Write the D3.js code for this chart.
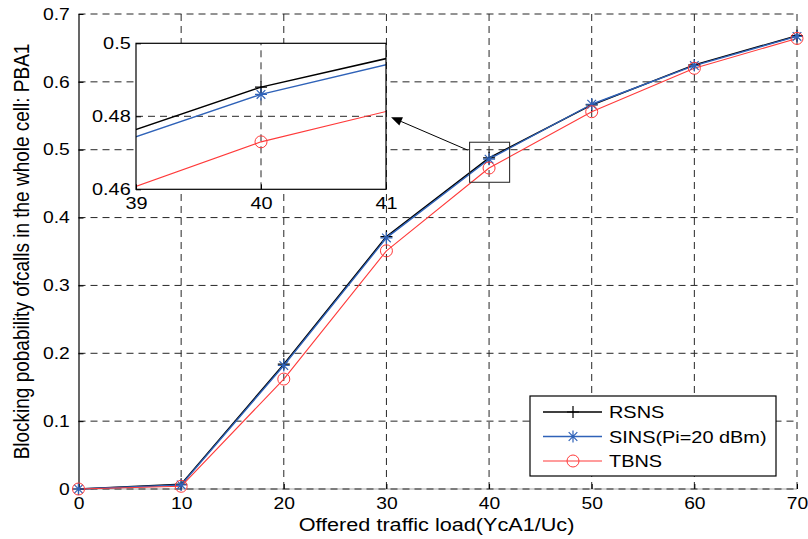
<!DOCTYPE html>
<html>
<head>
<meta charset="utf-8">
<script src="https://cdn.jsdelivr.net/npm/d3@7"></script>
<style>
  html, body { margin: 0; padding: 0; background: #fff; }
  svg { display: block; font-family: Arial, "Liberation Sans", sans-serif; }
</style>
</head>
<body>
<svg id="chart" width="808" height="539"></svg>
<script>
// ---------------- data ----------------
const load = [0, 10, 20, 30, 40, 50, 60, 70];
const rsns = [0, 0.007, 0.184, 0.372, 0.488, 0.566, 0.625, 0.668];
const sins = [0, 0.006, 0.182, 0.370, 0.486, 0.567, 0.624, 0.667];
const tbns = [0, 0.004, 0.162, 0.351, 0.473, 0.556, 0.620, 0.664];
const seriesNames = ["RSNS", "SINS(Pi=20 dBm)", "TBNS"];
const xTicks = [0, 10, 20, 30, 40, 50, 60, 70];
const yTicks = [0, 0.1, 0.2, 0.3, 0.4, 0.5, 0.6, 0.7];
const yTickLabels = ["0", "0.1", "0.2", "0.3", "0.4", "0.5", "0.6", "0.7"];
const insetXDomain = [39, 41];
const insetYDomain = [0.46, 0.5];
const insetXTicks = [39, 40, 41];
const insetYTicks = [0.46, 0.48, 0.5];
const insetYTickLabels = ["0.46", "0.48", "0.5"];
const zoomBoxX = [38.1, 42.0];
const zoomBoxY = [0.452, 0.511];
const arrowFrom = [37.9, 0.4995];
const arrowTo = [30.45, 0.548];
const xLabel = "Offered traffic load(YcA1/Uc)";
const yLabel = "Blocking pobability ofcalls in the whole cell: PBA1";

// ---------------- layout / style ----------------
const SX = 1.17; // horizontal text stretch of the original picture
const colors = ["#000000", "#2f62b8", "#ff3a3a"];
const widths = [1.5, 1.4, 1.1];
const markers = ["plus", "star", "circle"];
const series = [rsns, sins, tbns];
const gridColor = "#262626";
const dash = "7,5";

const svg = d3.select("#chart");
svg.append("rect").attr("width", 808).attr("height", 539).attr("fill", "#fff");

const x = d3.scaleLinear().domain([0, 70]).range([78.5, 797]);
const y = d3.scaleLinear().domain([0, 0.7]).range([489, 14]);

function drawMarker(g, type, cx, cy, color, s) {
  if (type === "circle") {
    g.append("circle").attr("cx", cx).attr("cy", cy).attr("r", s)
      .attr("fill", "none").attr("stroke", color).attr("stroke-width", 1);
  } else {
    let d = `M${cx - s},${cy}H${cx + s}M${cx},${cy - s}V${cy + s}`;
    if (type === "star") {
      const t = s * 0.72;
      d += `M${cx - t},${cy - t}L${cx + t},${cy + t}M${cx - t},${cy + t}L${cx + t},${cy - t}`;
    }
    g.append("path").attr("d", d).attr("fill", "none").attr("stroke", color).attr("stroke-width", 1.2);
  }
}

// ---------------- main grid ----------------
const grid = svg.append("g");
grid.append("line").attr("x1", x(0)).attr("x2", x(70)).attr("y1", y(0)).attr("y2", y(0))
  .attr("stroke", "#a8a8a8").attr("stroke-width", 1.2);
xTicks.forEach(t => {
  if (t === 0) return;
  grid.append("line").attr("x1", x(t)).attr("x2", x(t)).attr("y1", y(0)).attr("y2", y(0.7))
    .attr("stroke", gridColor).attr("stroke-dasharray", dash).attr("stroke-width", 1);
});
yTicks.forEach(t => {
  grid.append("line").attr("x1", x(0)).attr("x2", x(70)).attr("y1", y(t)).attr("y2", y(t))
    .attr("stroke", gridColor).attr("stroke-dasharray", dash).attr("stroke-width", 1);
});

// ---------------- axes ----------------
const yAxis = svg.append("g").attr("transform", `translate(${x(0)},0)`)
  .call(d3.axisLeft(y).tickValues(yTicks).tickFormat((d, i) => yTickLabels[i])
    .tickSizeInner(-5).tickSizeOuter(0).tickPadding(7.5));
yAxis.select(".domain").attr("stroke", "#000").attr("stroke-width", 1.2);
yAxis.selectAll(".tick line").attr("stroke", "#000");
yAxis.selectAll("text").attr("font-size", 16.5).attr("fill", "#000")
  .attr("font-family", "Arial, 'Liberation Sans', sans-serif")
  .attr("transform", `scale(${SX},1)`);

const xAxis = svg.append("g").attr("transform", `translate(0,${y(0)})`)
  .call(d3.axisBottom(x).tickValues(xTicks).tickFormat(d3.format("d"))
    .tickSizeInner(-5).tickSizeOuter(0).tickPadding(8));
xAxis.select(".domain").remove();
xAxis.selectAll(".tick line").attr("stroke", "#000");
xAxis.selectAll("text").attr("font-size", 16.5).attr("fill", "#000")
  .attr("font-family", "Arial, 'Liberation Sans', sans-serif")
  .attr("transform", `scale(${SX},1)`);

// axis titles
svg.append("text").text(xLabel)
  .attr("transform", `translate(436.5,531) scale(${SX},1)`)
  .attr("text-anchor", "middle").attr("font-size", 18.5).attr("fill", "#000");
svg.append("text").text(yLabel)
  .attr("transform", `translate(29,251.5) scale(${SX},1) rotate(-90)`)
  .attr("text-anchor", "middle").attr("font-size", 19).attr("fill", "#000");

// ---------------- main series ----------------
const line = d3.line().x((d, i) => x(load[i])).y(d => y(d));
const plot = svg.append("g");
series.forEach((s, k) => {
  plot.append("path").datum(s).attr("d", line).attr("fill", "none")
    .attr("stroke", colors[k]).attr("stroke-width", widths[k]).attr("stroke-linejoin", "round");
});
series.forEach((s, k) => {
  s.forEach((v, i) => drawMarker(plot, markers[k], x(load[i]), y(v), colors[k], 6));
});

// zoom box
svg.append("rect")
  .attr("x", x(zoomBoxX[0])).attr("y", y(zoomBoxY[1]))
  .attr("width", x(zoomBoxX[1]) - x(zoomBoxX[0]))
  .attr("height", y(zoomBoxY[0]) - y(zoomBoxY[1]))
  .attr("fill", "none").attr("stroke", "#333").attr("stroke-width", 1.1);

// arrow
(function () {
  const x1 = x(arrowFrom[0]), y1 = y(arrowFrom[1]);
  const x2 = x(arrowTo[0]), y2 = y(arrowTo[1]);
  const ang = Math.atan2(y2 - y1, x2 - x1);
  const L = 11, W = 4.5;
  const bx = x2 - L * Math.cos(ang), by = y2 - L * Math.sin(ang);
  svg.append("line").attr("x1", x1).attr("y1", y1).attr("x2", bx).attr("y2", by)
    .attr("stroke", "#000").attr("stroke-width", 1);
  const px = -Math.sin(ang) * W, py = Math.cos(ang) * W;
  svg.append("path")
    .attr("d", `M${x2},${y2}L${bx + px},${by + py}L${bx - px},${by - py}Z`)
    .attr("fill", "#000");
})();

// ---------------- inset ----------------
const xi = d3.scaleLinear().domain(insetXDomain).range([136, 386]);
const yi = d3.scaleLinear().domain(insetYDomain).range([189.3, 43.3]);
const inset = svg.append("g");
inset.append("rect").attr("x", 136).attr("y", 43.3).attr("width", 250).attr("height", 146)
  .attr("fill", "#fff");
inset.append("line").attr("x1", xi(40)).attr("x2", xi(40)).attr("y1", yi(0.46)).attr("y2", yi(0.5))
  .attr("stroke", gridColor).attr("stroke-dasharray", dash);
inset.append("line").attr("x1", xi(39)).attr("x2", xi(41)).attr("y1", yi(0.48)).attr("y2", yi(0.48))
  .attr("stroke", gridColor).attr("stroke-dasharray", dash);

svg.append("clipPath").attr("id", "insetClip").append("rect")
  .attr("x", 136).attr("y", 43.3).attr("width", 250).attr("height", 146);
const lineI = d3.line().x((d, i) => xi(load[i])).y(d => yi(d));
const insetPlot = inset.append("g").attr("clip-path", "url(#insetClip)");
series.forEach((s, k) => {
  insetPlot.append("path").datum(s).attr("d", lineI).attr("fill", "none")
    .attr("stroke", colors[k]).attr("stroke-width", widths[k]);
});
series.forEach((s, k) => {
  s.forEach((v, i) => {
    if (load[i] >= insetXDomain[0] && load[i] <= insetXDomain[1])
      drawMarker(insetPlot, markers[k], xi(load[i]), yi(v), colors[k], 6);
  });
});

const yiAxis = inset.append("g").attr("transform", `translate(136,0)`)
  .call(d3.axisLeft(yi).tickValues(insetYTicks).tickFormat((d, i) => insetYTickLabels[i])
    .tickSizeInner(-5).tickSizeOuter(0).tickPadding(4.5));
yiAxis.select(".domain").remove();
yiAxis.selectAll(".tick line").attr("stroke", "#000");
yiAxis.selectAll("text").attr("font-size", 17).attr("fill", "#000")
  .attr("font-family", "Arial, 'Liberation Sans', sans-serif")
  .attr("transform", `scale(${SX},1)`);
const xiAxis = inset.append("g").attr("transform", `translate(0,189.3)`)
  .call(d3.axisBottom(xi).tickValues(insetXTicks).tickFormat(d3.format("d"))
    .tickSizeInner(-5).tickSizeOuter(0).tickPadding(8));
xiAxis.select(".domain").remove();
xiAxis.selectAll(".tick line").attr("stroke", "#000");
xiAxis.selectAll("text").attr("font-size", 17).attr("fill", "#000")
  .attr("font-family", "Arial, 'Liberation Sans', sans-serif")
  .attr("transform", `scale(${SX},1)`);
inset.append("rect").attr("x", 136).attr("y", 43.3).attr("width", 250).attr("height", 146)
  .attr("fill", "none").attr("stroke", "#000").attr("stroke-width", 1.2);

// ---------------- legend ----------------
const lg = svg.append("g");
lg.append("rect").attr("x", 530).attr("y", 396).attr("width", 246).attr("height", 80)
  .attr("fill", "#fff").attr("stroke", "#000").attr("stroke-width", 1.2);
seriesNames.forEach((name, k) => {
  const ry = 412 + k * 24.5;
  lg.append("line").attr("x1", 543).attr("x2", 602).attr("y1", ry).attr("y2", ry)
    .attr("stroke", colors[k]).attr("stroke-width", widths[k]);
  drawMarker(lg, markers[k], 573, ry, colors[k], 6);
  lg.append("text").text(name)
    .attr("transform", `translate(609,${ry + 6}) scale(${SX},1)`)
    .attr("font-size", 17).attr("fill", "#000");
});
</script>
</body>
</html>
